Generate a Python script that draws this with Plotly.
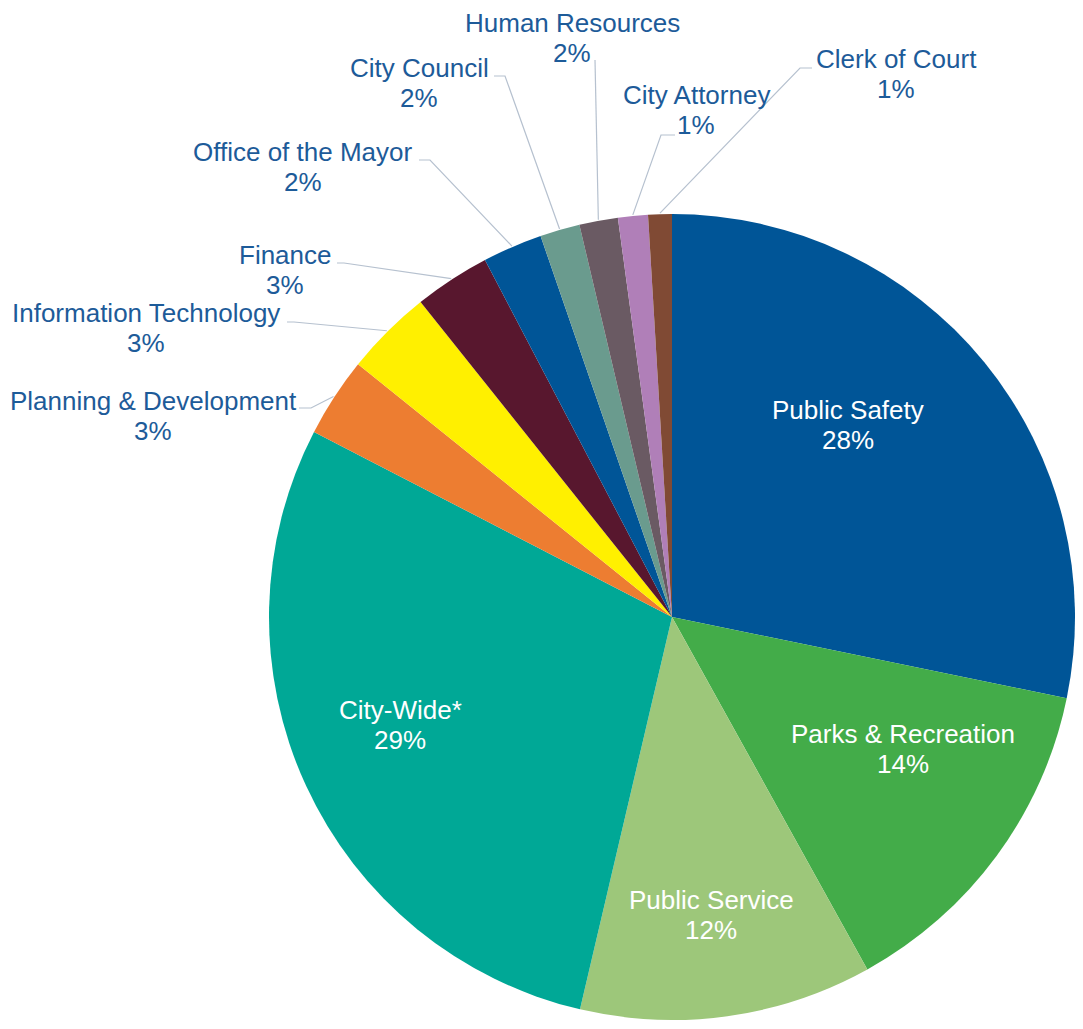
import math
import plotly.graph_objects as go

# the page body has an 8px margin on every side, so the figure sits inside it
OFF = 8
W, H = 1083 - 2 * OFF, 1029 - 2 * OFF

# slices, clockwise from 12 o'clock (percent of total budget)
departments = ["Public Safety", "Parks & Recreation", "Public Service", "City-Wide*",
               "Planning & Development", "Information Technology", "Finance",
               "Office of the Mayor", "City Council", "Human Resources",
               "City Attorney", "Clerk of Court"]
shares = [28.3, 13.75, 11.75, 29.0, 3.2, 3.5, 3.05, 2.4, 1.6, 1.55, 1.2, 0.95]
colors = ["#005597", "#43AC49", "#9DC77A", "#00A896", "#ED7D31", "#FFF000",
          "#58172E", "#005597", "#6A9B8E", "#6A5A63", "#B07FB8", "#804A34"]

BLUE_TXT = "#1D5B99"
LEADER = "#B6C1CF"
FONT = "Arial, Liberation Sans, sans-serif"
FSIZE = 26
GAP = 30  # baseline to baseline

# pie geometry in page pixels
CX, CY, R = 672, 617, 403

# label placement: centre x, baseline of first line
inside_pos = {
    "Public Safety": (848, 419),
    "Parks & Recreation": (903, 743),
    "Public Service": (711, 909),
    "City-Wide*": (400, 719),
}
# outside: centre x, first baseline, leader start, leader elbow
outside_pos = {
    "Planning & Development": (153, 410, (299, 408), (311, 408)),
    "Information Technology": (146, 322, (287, 322), (294, 322)),
    "Finance": (285, 264, (337, 263), (344, 263)),
    "Office of the Mayor": (303, 161, (419, 160), (430, 160)),
    "City Council": (419, 77, (494, 76), (505, 76)),
    "Human Resources": (572, 32, (595, 60), (595, 60)),
    "City Attorney": (696, 104, (675, 135), (661, 135)),
    "Clerk of Court": (896, 68, (812, 68), (800, 68)),
}


def px(x):
    return (x - OFF) / W


def py(y):
    return 1 - (y - OFF) / H


def line_label(text, x, baseline, color):
    # middle of a line sits roughly a third of the font size above its baseline
    return dict(x=px(x), y=py(baseline - FSIZE * 0.36), xref="paper", yref="paper",
                xanchor="center", yanchor="middle", text=text, showarrow=False,
                font=dict(color=color, size=FSIZE, family=FONT))


total = sum(shares)
fig = go.Figure(go.Pie(
    labels=departments,
    values=shares,
    sort=False,
    direction="clockwise",
    rotation=0,
    marker=dict(colors=colors, line=dict(width=0)),
    textinfo="none",
    hoverinfo="label+percent",
    domain=dict(x=[px(CX - R), min(1.0, px(CX + R))],
                y=[max(0.0, py(CY + R)), py(CY - R)]),
    showlegend=False,
))

annotations = []
shapes = []
cum = 0.0
for name, v in zip(departments, shares):
    pct = f"{round(v / total * 100)}%"
    mid = (cum + v / 2) / total * 2 * math.pi
    cum += v
    if name in inside_pos:
        x, b = inside_pos[name]
        annotations.append(line_label(name, x, b, "white"))
        annotations.append(line_label(pct, x, b + GAP, "white"))
    else:
        x, b, s, e = outside_pos[name]
        annotations.append(line_label(name, x, b, BLUE_TXT))
        annotations.append(line_label(pct, x, b + GAP, BLUE_TXT))
        ex = CX + (R + 1) * math.sin(mid)
        ey = CY - (R + 1) * math.cos(mid)
        path = (f"M {px(s[0])},{py(s[1])} L {px(e[0])},{py(e[1])} "
                f"L {px(ex)},{py(ey)}")
        shapes.append(dict(type="path", xref="paper", yref="paper", path=path,
                           line=dict(color=LEADER, width=1.2)))

fig.update_layout(
    width=W, height=H,
    margin=dict(l=0, r=0, t=0, b=0),
    paper_bgcolor="white",
    plot_bgcolor="white",
    annotations=annotations,
    shapes=shapes,
    font=dict(family=FONT),
)

fig.write_html("out.html")
